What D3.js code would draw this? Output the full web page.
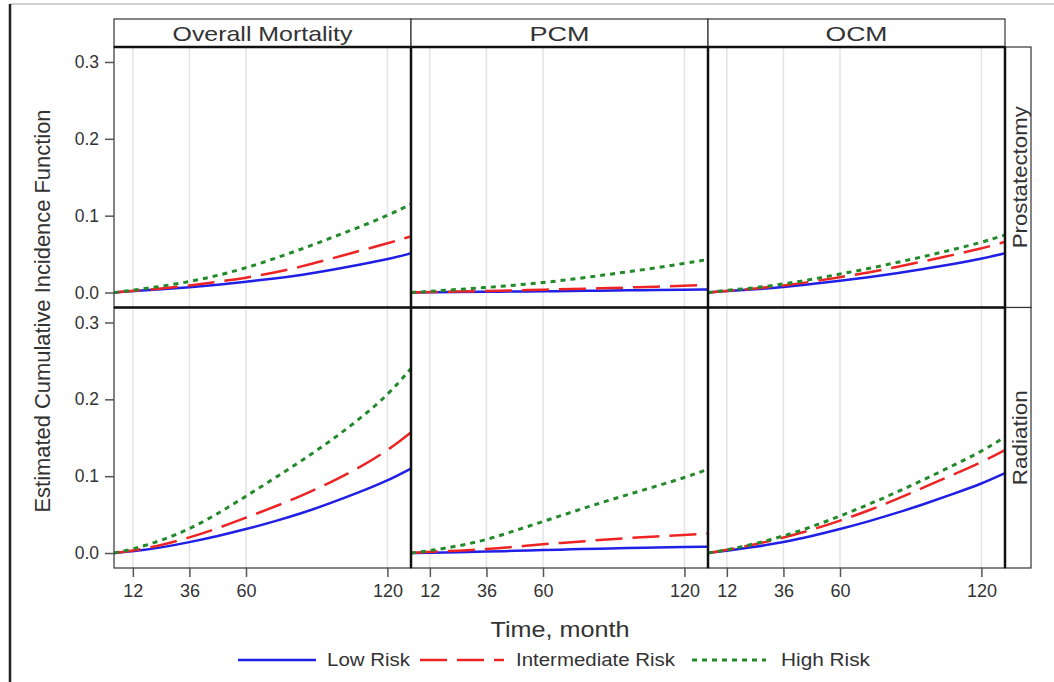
<!DOCTYPE html>
<html>
<head>
<meta charset="utf-8">
<script src="https://cdn.jsdelivr.net/npm/d3@7"></script>
<style>
  body { margin: 0; background: #fff; }
  text { font-family: "Liberation Sans", Arial, sans-serif; fill: #333; }
</style>
</head>
<body>
<div id="chart"></div>
<script>
        var width = 1054, height = 682;

        // categories
        var columns = ["Overall Mortality", "PCM", "OCM"];
        var rows = ["Prostatectomy", "Radiation"];
        var seriesNames = ["Low Risk", "Intermediate Risk", "High Risk"];
        var months = [4, 12, 24, 36, 48, 60, 72, 84, 96, 108, 120, 130];
        var xTicks = [12, 36, 60, 120];
        var yTicks = [0.0, 0.1, 0.2, 0.3];

        // Prostatectomy row
        var overallProstLow  = [0, 0.002, 0.004, 0.007, 0.010, 0.014, 0.018, 0.023, 0.029, 0.036, 0.043, 0.051];
        var overallProstInt  = [0, 0.002, 0.005, 0.009, 0.014, 0.019, 0.026, 0.034, 0.044, 0.054, 0.064, 0.073];
        var overallProstHigh = [0, 0.003, 0.008, 0.014, 0.022, 0.032, 0.044, 0.057, 0.071, 0.085, 0.100, 0.115];
        var pcmProstLow  = [0, 0.0003, 0.0006, 0.001, 0.0013, 0.0016, 0.002, 0.0024, 0.0028, 0.0032, 0.0036, 0.004];
        var pcmProstInt  = [0, 0.0005, 0.0012, 0.002, 0.0028, 0.0036, 0.0045, 0.0055, 0.0065, 0.0076, 0.0088, 0.010];
        var pcmProstHigh = [0, 0.0015, 0.004, 0.0065, 0.0095, 0.013, 0.017, 0.022, 0.027, 0.032, 0.038, 0.043];
        var ocmProstLow  = [0, 0.002, 0.004, 0.007, 0.011, 0.015, 0.020, 0.025, 0.031, 0.037, 0.044, 0.051];
        var ocmProstInt  = [0, 0.002, 0.005, 0.009, 0.014, 0.020, 0.026, 0.033, 0.041, 0.049, 0.057, 0.066];
        var ocmProstHigh = [0, 0.003, 0.006, 0.011, 0.017, 0.024, 0.031, 0.039, 0.047, 0.056, 0.065, 0.075];

        // Radiation row
        var overallRadLow  = [0, 0.002, 0.007, 0.014, 0.022, 0.031, 0.041, 0.052, 0.065, 0.079, 0.094, 0.110];
        var overallRadInt  = [0, 0.003, 0.010, 0.020, 0.032, 0.046, 0.060, 0.075, 0.092, 0.111, 0.133, 0.157];
        var overallRadHigh = [0, 0.005, 0.016, 0.031, 0.051, 0.074, 0.097, 0.121, 0.146, 0.174, 0.205, 0.240];
        var pcmRadLow  = [0, 0.0005, 0.001, 0.0018, 0.0028, 0.0038, 0.0048, 0.0057, 0.0065, 0.0072, 0.0078, 0.0083];
        var pcmRadInt  = [0, 0.0015, 0.003, 0.005, 0.008, 0.0115, 0.014, 0.017, 0.0195, 0.0215, 0.0235, 0.0256];
        var pcmRadHigh = [0, 0.003, 0.009, 0.017, 0.029, 0.041, 0.053, 0.065, 0.076, 0.087, 0.098, 0.109];
        var ocmRadLow  = [0, 0.003, 0.008, 0.014, 0.022, 0.031, 0.041, 0.052, 0.064, 0.077, 0.090, 0.104];
        var ocmRadInt  = [0, 0.004, 0.011, 0.020, 0.030, 0.042, 0.055, 0.070, 0.086, 0.102, 0.118, 0.134];
        var ocmRadHigh = [0, 0.004, 0.012, 0.022, 0.034, 0.048, 0.063, 0.079, 0.096, 0.114, 0.132, 0.151];

        var panelData = [
            [[overallProstLow, overallProstInt, overallProstHigh],
             [pcmProstLow, pcmProstInt, pcmProstHigh],
             [ocmProstLow, ocmProstInt, ocmProstHigh]],
            [[overallRadLow, overallRadInt, overallRadHigh],
             [pcmRadLow, pcmRadInt, pcmRadHigh],
             [ocmRadLow, ocmRadInt, ocmRadHigh]]
        ];

        var colors = ["#1f1fe6", "#ee2424", "#228a2a"];
        var dashes = [null, "27,10", "5,5"];
        var widths = [2.5, 2.5, 3];

        // layout
        var plotLeft = 114, panelW = 297, plotTop = 47, panelH = 260.5;
        var stripW = 26, headerTop = 19;

        var svg = d3.select("#chart")
                    .append("svg")
                    .attr("width", width)
                    .attr("height", height);

        // outer frame
        svg.append("line").attr("x1", 10).attr("x2", width).attr("y1", 4).attr("y2", 4)
           .style("stroke", "#cfcfcf").style("stroke-width", 2);
        svg.append("line").attr("x1", 10).attr("x2", 10).attr("y1", 4).attr("y2", height)
           .style("stroke", "#222").style("stroke-width", 2.5);

        var y = d3.scaleLinear().domain([-0.0195, 0.3195]);

        rows.forEach(function(rowName, r) {
            var y0 = plotTop + r * panelH;
            y.range([y0 + panelH, y0]);

            columns.forEach(function(colName, c) {
                var x0 = plotLeft + c * panelW;
                var x = d3.scaleLinear().domain([4, 130]).range([x0, x0 + panelW]);

                var g = svg.append("g");
                var clipId = "clip" + r + c;
                g.append("clipPath").attr("id", clipId)
                 .append("rect").attr("x", x0).attr("y", y0).attr("width", panelW).attr("height", panelH);

                // grid lines
                g.selectAll(".grid")
                 .data(xTicks)
                 .enter()
                 .append("line")
                 .attr("x1", d => x(d)).attr("x2", d => x(d))
                 .attr("y1", y0).attr("y2", y0 + panelH)
                 .style("stroke", "#e3e3e3").style("stroke-width", 1.5);

                // curves
                var line = d3.line()
                             .x(d => x(d[0]))
                             .y(d => y(d[1]))
                             .curve(d3.curveBasis);

                panelData[r][c].forEach(function(vals, s) {
                    g.append("path")
                     .attr("clip-path", "url(#" + clipId + ")")
                     .attr("d", line(months.map((m, i) => [m, vals[i]])))
                     .style("fill", "none")
                     .style("stroke", colors[s])
                     .style("stroke-width", widths[s])
                     .style("stroke-dasharray", dashes[s]);
                });

                g.append("rect").attr("x", x0).attr("y", y0).attr("width", panelW).attr("height", panelH)
                 .style("fill", "none").style("stroke", "#333").style("stroke-width", 1.2);

                // x axis on the bottom row
                if (r == rows.length - 1) {
                    var xAxis = g.append("g")
                                 .attr("transform", "translate(0," + (y0 + panelH) + ")")
                                 .call(d3.axisBottom(x).tickValues(xTicks).tickSize(9).tickPadding(7));
                    xAxis.select(".domain").remove();
                    xAxis.selectAll("line").style("stroke", "#555").style("stroke-width", 1.5);
                    xAxis.selectAll("text").style("font-size", "18px")
                         .style("font-family", "Liberation Sans, Arial, sans-serif").attr("fill", "#444");
                }

                // column header on the top row
                if (r == 0) {
                    svg.append("rect").attr("x", x0).attr("y", headerTop)
                       .attr("width", panelW).attr("height", plotTop - headerTop)
                       .style("fill", "#fff").style("stroke", "#333").style("stroke-width", 1.2);
                    var hw = {"Overall Mortality": 180, "PCM": 60, "OCM": 62}[colName];
                    svg.append("text").attr("x", x0 + panelW / 2).attr("y", 41)
                       .attr("text-anchor", "middle").style("font-size", "21px")
                       .attr("textLength", hw).attr("lengthAdjust", "spacingAndGlyphs")
                       .text(colName);
                }
            });

            // y axis
            var yAxis = svg.append("g")
                           .attr("transform", "translate(" + plotLeft + ",0)")
                           .call(d3.axisLeft(y).tickValues(yTicks).tickFormat(d3.format(".1f")).tickSize(9).tickPadding(6));
            yAxis.select(".domain").remove();
            yAxis.selectAll("line").style("stroke", "#555").style("stroke-width", 1.5);
            yAxis.selectAll("text").style("font-size", "17.5px")
                 .style("font-family", "Liberation Sans, Arial, sans-serif").attr("fill", "#444");

            // row strip
            var sx = plotLeft + columns.length * panelW;
            svg.append("rect").attr("x", sx).attr("y", y0).attr("width", stripW).attr("height", panelH)
               .style("fill", "#fff").style("stroke", "#333").style("stroke-width", 1.2);
            svg.append("text")
               .attr("transform", "translate(" + (sx + stripW / 2 + 1) + "," + (y0 + panelH / 2) + ") rotate(-90)")
               .attr("text-anchor", "middle").attr("dominant-baseline", "central")
               .style("font-size", "21px")
               .attr("textLength", r == 0 ? 142 : 95).attr("lengthAdjust", "spacingAndGlyphs")
               .text(rowName);
        });

        // heavy panel dividers
        var heavy = svg.append("g").style("stroke", "#111").style("stroke-width", 2.5);
        [1, 2, 3].forEach(function(c) {
            heavy.append("line").attr("x1", plotLeft + c * panelW).attr("x2", plotLeft + c * panelW)
                 .attr("y1", plotTop).attr("y2", plotTop + 2 * panelH);
        });
        [0, 1].forEach(function(r) {
            heavy.append("line").attr("x1", plotLeft).attr("x2", plotLeft + 3 * panelW)
                 .attr("y1", plotTop + r * panelH).attr("y2", plotTop + r * panelH);
        });

        // axis titles
        svg.append("text")
           .attr("transform", "translate(42,311) rotate(-90)")
           .attr("text-anchor", "middle").attr("dominant-baseline", "central")
           .style("font-size", "22px")
           .attr("textLength", 403).attr("lengthAdjust", "spacingAndGlyphs")
           .text("Estimated Cumulative Incidence Function");
        svg.append("text")
           .attr("x", 560).attr("y", 637)
           .attr("text-anchor", "middle")
           .style("font-size", "22px")
           .attr("textLength", 139).attr("lengthAdjust", "spacingAndGlyphs")
           .text("Time, month");

        // legend
        var legendItems = [
            {x1: 238, x2: 316, tx: 327, tw: 83},
            {x1: 420, x2: 504, tx: 516, tw: 159},
            {x1: 692, x2: 766, tx: 781, tw: 89}
        ];
        var legend = svg.append("g");
        legendItems.forEach(function(d, i) {
            legend.append("line").attr("x1", d.x1).attr("x2", d.x2).attr("y1", 660).attr("y2", 660)
                  .style("stroke", colors[i]).style("stroke-width", widths[i])
                  .style("stroke-dasharray", dashes[i]);
            legend.append("text").attr("x", d.tx).attr("y", 666)
                  .style("font-size", "17.5px")
                  .attr("textLength", d.tw).attr("lengthAdjust", "spacingAndGlyphs")
                  .text(seriesNames[i]);
        });
</script>
</body>
</html>
